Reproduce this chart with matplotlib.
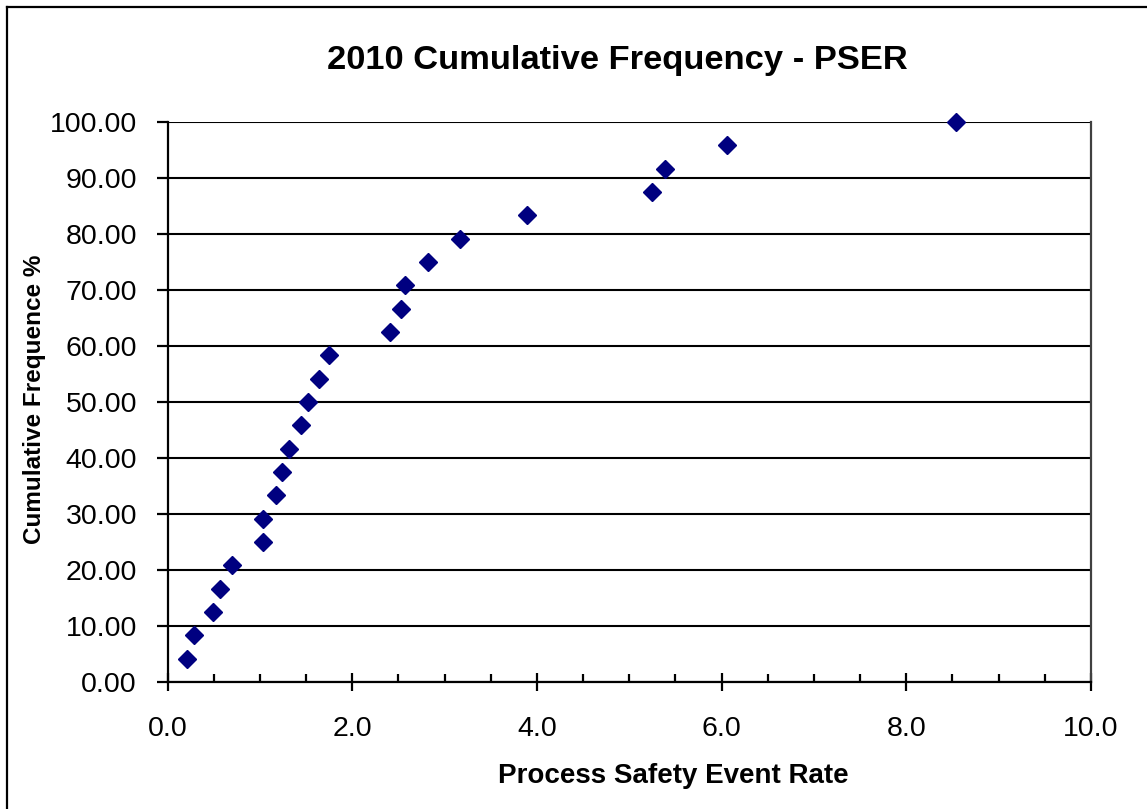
"""
2010 cumulative frequency of process safety event rate (PSER)
"""

import matplotlib
matplotlib.use('Agg')
import matplotlib.pyplot as plt
import numpy as np
from matplotlib.ticker import MultipleLocator, FormatStrFormatter
from matplotlib.lines import Line2D

plt.rcParams['font.family'] = ['Liberation Sans', 'DejaVu Sans']

# event rate for each site, sorted, and its cumulative frequency (%)
event_rate = [0.21, 0.29, 0.49, 0.57, 0.70, 1.03, 1.03, 1.17, 1.24, 1.32,
              1.45, 1.52, 1.64, 1.75, 2.41, 2.53, 2.57, 2.82, 3.17, 3.89,
              5.25, 5.39, 6.06, 8.54]
cum_freq = [4.17, 8.33, 12.50, 16.67, 20.83, 25.00, 29.17, 33.33, 37.50,
            41.67, 45.83, 50.00, 54.17, 58.33, 62.50, 66.67, 70.83, 75.00,
            79.17, 83.33, 87.50, 91.67, 95.83, 100.00]

fig = plt.figure(figsize=(11.47, 8.09), dpi=100)
ax = fig.add_axes([167.5/1147, 1 - 682/809, (1091 - 167.5)/1147, (682 - 122)/809])

ax.plot(event_rate, cum_freq, linestyle='None', marker='D', markersize=9.2,
        color='#000080', zorder=3, clip_on=False)

ax.set_xlim(0, 10)
ax.set_ylim(0, 100)

ax.xaxis.set_major_locator(MultipleLocator(2))
ax.xaxis.set_minor_locator(MultipleLocator(0.5))
ax.yaxis.set_major_locator(MultipleLocator(10))
ax.xaxis.set_major_formatter(FormatStrFormatter('%.1f'))
ax.yaxis.set_major_formatter(FormatStrFormatter('%.2f'))

ax.grid(axis='y', color='black', linewidth=1.5, zorder=1)
ax.set_axisbelow(True)

for side in ['left', 'bottom']:
    ax.spines[side].set_linewidth(1.6)
    ax.spines[side].set_color('black')
ax.spines['top'].set_visible(False)
ax.spines['right'].set_color('#404040')
ax.spines['right'].set_linewidth(1.6)

ax.tick_params(axis='x', which='major', direction='inout', length=13, width=1.6,
               labelsize=20.5, pad=18)
ax.tick_params(axis='x', which='minor', direction='in', length=6, width=1.6)
ax.tick_params(axis='y', which='major', direction='out', length=8, width=1.6,
               labelsize=20.5, pad=14)

fig.text(617/1147, 1 - 61/809, '2010 Cumulative Frequency - PSER',
         ha='center', va='center', fontsize=24.8, fontweight='bold')
fig.text(673/1147, 1 - 776/809, 'Process Safety Event Rate',
         ha='center', va='center', fontsize=20, fontweight='bold')
fig.text(35/1147, 1 - 399/809, 'Cumulative Frequence %', rotation=90,
         ha='center', va='center', fontsize=17.5, fontweight='bold')

# chart area border (only left and top edges are inside the picture)
fig.add_artist(Line2D([7/1147, 7/1147], [0, 1 - 7/809], transform=fig.transFigure,
                      color='black', linewidth=1.6))
fig.add_artist(Line2D([7/1147, 1], [1 - 7/809, 1 - 7/809], transform=fig.transFigure,
                      color='black', linewidth=1.6))

plt.savefig('out.png', dpi=100)
